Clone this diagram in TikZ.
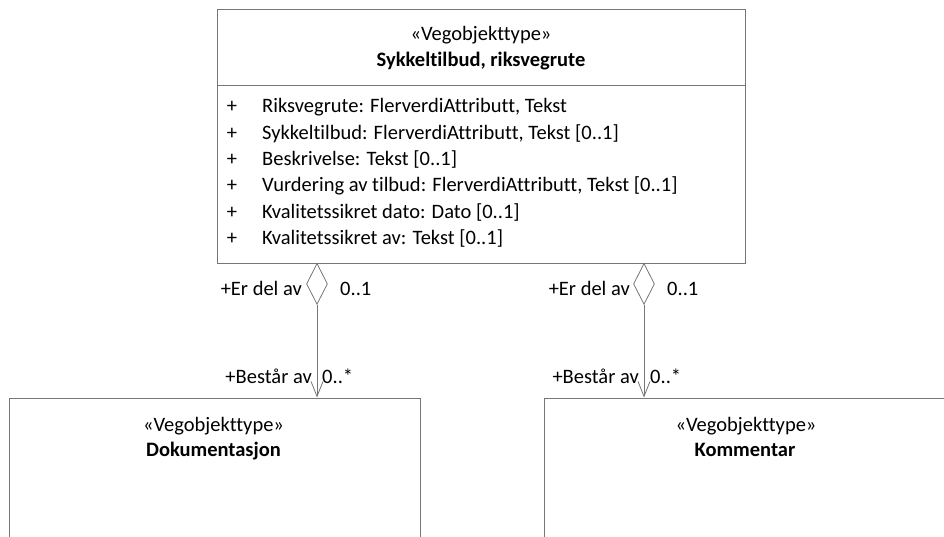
\documentclass[tikz,border=0pt]{standalone}
\usepackage{fontspec}
\setmainfont{Carlito}[Ligatures=NoCommon]
\usetikzlibrary{arrows.meta,shapes.geometric}
\definecolor{umlline}{RGB}{118,118,118}
\tikzset{
  umlbox/.style={draw=umlline, line width=0.8pt, rectangle, inner sep=0pt, anchor=north west},
  txt/.style={inner sep=0pt, font=\fontsize{20.5}{24}\selectfont, text=black},
  btxt/.style={txt, font=\fontsize{20.5}{24}\selectfont\bfseries},
  agg/.style={draw=umlline, line width=0.8pt, diamond, inner sep=0pt, aspect=0.5, minimum width=21pt, minimum height=41pt, anchor=north},
  conn/.style={draw=umlline, line width=0.8pt, -{Straight Barb[length=15pt,width=12pt,line width=0.8pt]}}
}
\begin{document}
\begin{tikzpicture}[x=1pt,y=-1pt]
\useasboundingbox (0,0) rectangle (944,537);
\clip (0,0) rectangle (944,537);
% main class
\node[umlbox, minimum width=528pt, minimum height=254pt] (main) at (217,9) {};
\draw[umlline, line width=0.8pt] (main.west |- 0,85) coordinate (sepL) -- (main.east |- 0,85) coordinate (sepR);
\node[txt, anchor=base] (mst) at (481,41) {«Vegobjekttype»};
\node[btxt, anchor=base] (mname) at (481,67) {Sykkeltilbud, riksvegrute};
\foreach \t [count=\i from 0] in {{Riksvegrute: FlerverdiAttributt, Tekst},
  {Sykkeltilbud: FlerverdiAttributt, Tekst [0..1]},
  {Beskrivelse: Tekst [0..1]},
  {Vurdering av tilbud: FlerverdiAttributt, Tekst [0..1]},
  {Kvalitetssikret dato: Dato [0..1]},
  {Kvalitetssikret av: Tekst [0..1]}}{
  \node[txt, anchor=base] (plus\i) at (232,{112.7+26.4*\i}) {+};
  \node[txt, anchor=base west] (attr\i) at (262,{112.7+26.4*\i}) {\t};
}
% bottom classes
\node[umlbox, minimum width=411pt, minimum height=200pt] (doc) at (8.5,397.5) {};
\node[txt, anchor=base] (dst) at (213.5,431.7) {«Vegobjekttype»};
\node[btxt, anchor=base] (dname) at (213.5,456.7) {Dokumentasjon};
\node[umlbox, minimum width=404pt, minimum height=200pt] (kom) at (543.5,397.5) {};
\node[txt, anchor=base] (kst) at (746,431.7) {«Vegobjekttype»};
\node[btxt, anchor=base] (kname) at (745,456.7) {Kommentar};
% aggregations
\node[agg] (d1) at (317,263) {};
\node[agg] (d2) at (644,263) {};
\draw[conn] (d1.south) -- (d1.south |- doc.north);
\draw[conn] (d2.south) -- (d2.south |- kom.north);
% role labels
\node[txt, anchor=base east] (r1a) at (302,295) {+Er del av};
\node[txt, anchor=base west] (m1a) at (340,295) {0..1};
\node[txt, anchor=base east] (r1b) at (312,383) {+Består av};
\node[txt, anchor=base west] (m1b) at (322,383) {0..*};
\node[txt, anchor=base east] (r2a) at (630,295) {+Er del av};
\node[txt, anchor=base west] (m2a) at (667,295) {0..1};
\node[txt, anchor=base east] (r2b) at (639,383) {+Består av};
\node[txt, anchor=base west] (m2b) at (650,383) {0..*};
\end{tikzpicture}
\end{document}
